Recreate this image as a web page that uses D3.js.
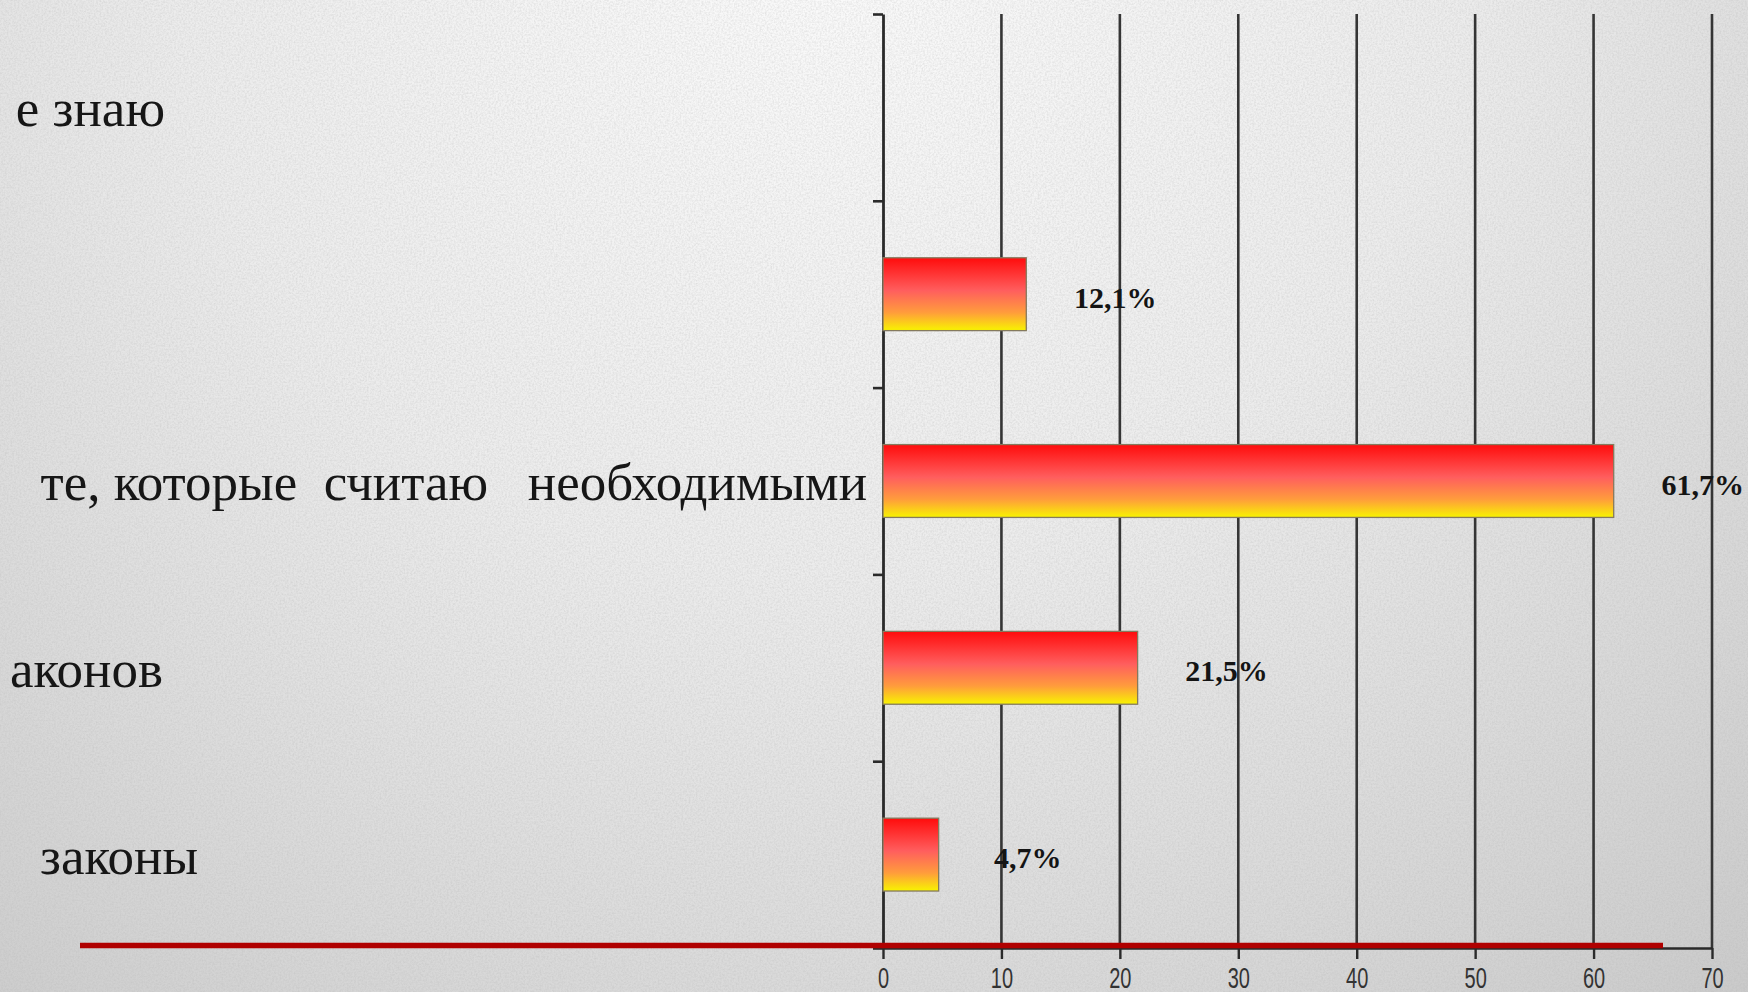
<!DOCTYPE html>
<html>
<head>
<meta charset="utf-8">
<script src="https://cdn.jsdelivr.net/npm/d3@7"></script>
<style>
    html, body { margin: 0; padding: 0; overflow: hidden; background: #e6e6e6; }
    svg { display: block; }
</style>
</head>
<body>
<div id="chart"></div>
<script>

// categories listed top to bottom (only the visible part of the cut labels)
const categories = ["е знаю", "", "те, которые  считаю   необходимыми", "аконов", "законы"];
const values = [0, 12.1, 61.7, 21.5, 4.7];
const valueLabels = ["", "12,1%", "61,7%", "21,5%", "4,7%"];
const xTicks = [0, 10, 20, 30, 40, 50, 60, 70];

// layout
const W = 1748, H = 992;
const plot = { left: 883, right: 1712, top: 14, bottom: 948 };
const labelRight = [165, 0, 867, 163, 198];   // right edge of each category label

const svg = d3.select("#chart").append("svg")
    .attr("width", W).attr("height", H)
    .attr("xmlns", "http://www.w3.org/2000/svg");

const defs = svg.append("defs");

// paper background
const bg = defs.append("radialGradient").attr("id", "bg")
    .attr("gradientUnits", "userSpaceOnUse")
    .attr("cx", 820).attr("cy", -80).attr("r", 1450);
bg.append("stop").attr("offset", 0).attr("stop-color", "#fbfbfb");
bg.append("stop").attr("offset", 0.45).attr("stop-color", "#ececec");
bg.append("stop").attr("offset", 1).attr("stop-color", "#c9c9c9");

const noise = defs.append("filter").attr("id", "noise")
    .attr("x", 0).attr("y", 0).attr("width", "100%").attr("height", "100%");
noise.append("feTurbulence").attr("type", "fractalNoise")
    .attr("baseFrequency", 0.55).attr("numOctaves", 3).attr("seed", 4);
noise.append("feColorMatrix").attr("type", "matrix")
    .attr("values", "0 0 0 0 0.45  0 0 0 0 0.45  0 0 0 0 0.45  0 0 0 -1.6 1.05");

// bar fill: red on top fading to yellow at the bottom
const barGrad = defs.append("linearGradient").attr("id", "barGrad")
    .attr("x1", 0).attr("y1", 0).attr("x2", 0).attr("y2", 1);
[[0, "#ff0c0c"], [0.45, "#ff5e5e"], [0.75, "#ff9c3c"], [1, "#f8f400"]]
    .forEach(s => barGrad.append("stop").attr("offset", s[0]).attr("stop-color", s[1]));

svg.append("rect").attr("width", W).attr("height", H).attr("fill", "url(#bg)");
svg.append("rect").attr("width", W).attr("height", H).attr("filter", "url(#noise)").attr("opacity", 0.35);

// scales
const x = d3.scaleLinear().domain([0, 70]).range([plot.left, plot.right]);
const y = d3.scaleBand().domain(d3.range(categories.length))
    .range([plot.top, plot.bottom]).paddingInner(0.61).paddingOuter(0.305);
const yEdge = d3.scaleLinear().domain([0, categories.length]).range([plot.top, plot.bottom]);

// vertical gridlines
svg.append("g").selectAll("line")
    .data(xTicks.slice(1))
    .join("line")
    .attr("x1", d => x(d)).attr("x2", d => x(d))
    .attr("y1", plot.top).attr("y2", plot.bottom)
    .attr("stroke", "#353535").attr("stroke-width", 2.6);

// bottom axis
const xAxis = svg.append("g")
    .attr("transform", `translate(0,${plot.bottom})`)
    .call(d3.axisBottom(x).tickValues(xTicks).tickSize(11).tickSizeOuter(0));
xAxis.select(".domain").attr("stroke", "#2a2a2a").attr("stroke-width", 2.4);
xAxis.selectAll(".tick line").attr("stroke", "#2a2a2a").attr("stroke-width", 2.4);
xAxis.selectAll(".tick text")
    .attr("y", 0).attr("dy", null)
    .attr("dominant-baseline", "central")
    .attr("transform", "translate(0,29) scale(1,1.5)")
    .attr("fill", "#333")
    .style("font-family", "'Liberation Sans', Arial, sans-serif")
    .style("font-size", "20px");

// left axis with ticks between categories
const yAxis = svg.append("g")
    .attr("transform", `translate(${plot.left},0)`)
    .call(d3.axisLeft(yEdge).ticks(categories.length).tickSize(10).tickSizeOuter(0).tickFormat(""));
yAxis.select(".domain").attr("stroke", "#2a2a2a").attr("stroke-width", 2.8);
yAxis.selectAll(".tick line").attr("stroke", "#2a2a2a").attr("stroke-width", 2.6);

// bars
svg.append("g").selectAll("rect")
    .data(values.map((v, i) => ({ v, i })).filter(d => d.v > 0))
    .join("rect")
    .attr("x", x(0))
    .attr("y", d => y(d.i))
    .attr("width", d => x(d.v) - x(0))
    .attr("height", y.bandwidth())
    .attr("fill", "url(#barGrad)")
    .attr("stroke", "#857a5e").attr("stroke-width", 1.3);

// value labels
svg.append("g").selectAll("text")
    .data(valueLabels.map((t, i) => ({ t, i, v: values[i] })).filter(d => d.t))
    .join("text")
    .attr("x", d => x(d.v) + 89)
    .attr("y", d => y(d.i) + y.bandwidth() / 2 + 3)
    .attr("text-anchor", "middle")
    .attr("dominant-baseline", "central")
    .attr("fill", "#141414")
    .style("font-family", "'Liberation Serif', 'Times New Roman', serif")
    .style("font-weight", "bold")
    .style("font-size", "30px")
    .text(d => d.t);

// category labels
svg.append("g").selectAll("text")
    .data(categories.map((t, i) => ({ t, i })).filter(d => d.t))
    .join("text")
    .attr("x", d => labelRight[d.i])
    .attr("y", d => y(d.i) + y.bandwidth() / 2 + 19)
    .attr("text-anchor", "end")
    .attr("fill", "#161616")
    .style("white-space", "pre")
    .style("font-family", "'Liberation Serif', 'Times New Roman', serif")
    .style("font-size", "53px")
    .text(d => d.t);

// slide decoration: dark red rule along the bottom
svg.append("line")
    .attr("x1", 80).attr("x2", 1663)
    .attr("y1", 945.5).attr("y2", 945.5)
    .attr("stroke", "#b00000").attr("stroke-width", 5.5);

</script>
</body>
</html>
